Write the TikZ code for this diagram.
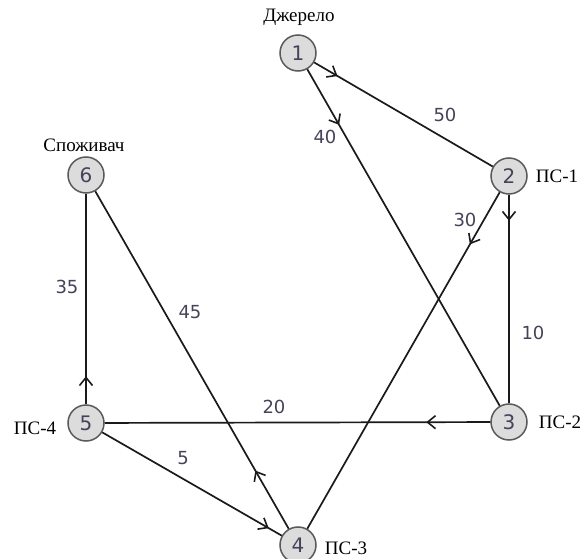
\documentclass[tikz,border=0pt]{standalone}
\usepackage{fontspec}
\setmainfont{Liberation Serif}
\newfontfamily\numfont{DejaVu Sans}
\usetikzlibrary{arrows.meta,decorations.markings}
\definecolor{edgecol}{HTML}{1A1A1A}
\definecolor{nodefill}{HTML}{DCDCDC}
\definecolor{nodeline}{HTML}{5A5A5A}
\definecolor{numcol}{HTML}{46425A}
\tikzset{
  vert/.style={circle,draw=nodeline,line width=1.5pt,fill=nodefill,minimum size=36pt,inner sep=0pt,font=\numfont\fontsize{20}{20}\selectfont,text=numcol},
  vlabel/.style={font=\fontsize{19}{19}\selectfont,text=black,inner sep=0pt},
  wlabel/.style={font=\numfont\fontsize{18}{18}\selectfont,text=numcol,inner sep=0pt},
  edge/.style={draw=edgecol,line width=1.7pt},
  arr/.style={edge,postaction={decorate},decoration={markings,mark=at position #1 with {\arrow[edgecol]{Straight Barb[length=8pt,width=13pt,line width=1.6pt]}}}}
}
\begin{document}
\begin{tikzpicture}[x=1pt,y=-1pt]
\useasboundingbox (0,0) rectangle (582,559);
\node[vert] (n1) at (298,53) {1};
\node[vert] (n2) at (509,176) {2};
\node[vert] (n3) at (509,422) {3};
\node[vert] (n4) at (298,545) {4};
\node[vert] (n5) at (86,423) {5};
\node[vert] (n6) at (86,175) {6};

\node[vlabel] (l1) at (299,17) {Джерело};
\node[vlabel] (l2) at (557,176) {ПС-1};
\node[vlabel] (l6) at (84,145) {Споживач};
\node[vlabel] (l5) at (35,428) {ПС-4};
\node[vlabel] (l3) at (560,422) {ПС-2};
\node[vlabel] (l4) at (346,548) {ПС-3};

\draw[arr=27pt] (n1) -- (n2);
\draw[arr=64pt] (n1) -- (n3);
\draw[arr=26pt] (n2) -- (n3);
\draw[arr=60pt] (n2) -- (n4);
\draw[arr=64pt] (n3) -- (n5);
\draw[arr=-15pt] (n5) -- (n4);
\draw[arr=67pt] (n4) -- (n6);
\draw[arr=28pt] (n5) -- (n6);

\node[wlabel] (w50) at (445,115) {50};
\node[wlabel] (w40) at (325,137) {40};
\node[wlabel] (w30) at (465,220) {30};
\node[wlabel] (w10) at (533,333) {10};
\node[wlabel] (w20) at (274,407) {20};
\node[wlabel] (w5) at (183,458) {5};
\node[wlabel] (w45) at (190,312) {45};
\node[wlabel] (w35) at (67,287) {35};
\end{tikzpicture}
\end{document}
